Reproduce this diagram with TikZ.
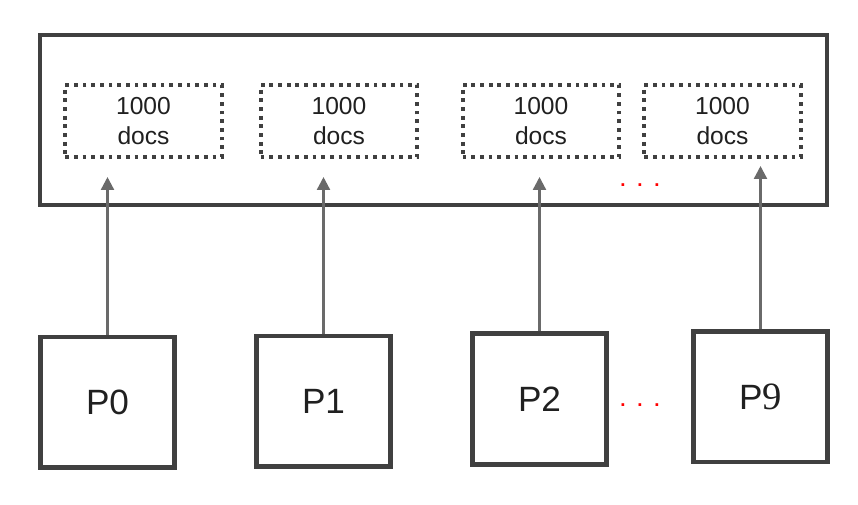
\documentclass[tikz,border=0pt]{standalone}
\usepackage{fontspec}
\setmainfont{Liberation Sans}
\newfontfamily\ninefont{Liberation Serif}
\usetikzlibrary{positioning,arrows.meta}
\definecolor{frame}{HTML}{404040}
\definecolor{arrowgray}{HTML}{6A6A6A}
\definecolor{txt}{HTML}{202020}
\tikzset{
  store/.style={rectangle,draw=frame,line width=4.2pt,minimum width=23.61cm,minimum height=5.1cm},
  docs/.style={rectangle,draw=frame,line width=3.2pt,dash pattern=on 3.2pt off 4.2pt,
    minimum width=4.7cm,minimum height=2.16cm,align=center,text=txt,
    font=\fontsize{21}{26}\selectfont},
  proc/.style={rectangle,draw=frame,line width=4.2pt,minimum width=4.0cm,minimum height=3.92cm,
    text=txt,font=\fontsize{30}{30}\selectfont},
  more/.style={text=red,font=\fontsize{16}{16}\selectfont\bfseries},
  ar/.style={-{Triangle[length=11pt,width=11pt]},line width=2pt,draw=arrowgray},
}
\begin{document}
\begin{tikzpicture}
\useasboundingbox (0,0) rectangle (25.74,-15.12);
% ---- index with shards ----
\node[store] (idx) at (13.005,-3.6){};
\node[docs] (d0) at (4.305,-3.63){1000\\docs};
\node[docs] (d1) at (10.17,-3.63){1000\\docs};
\node[docs] (d2) at (16.23,-3.63){1000\\docs};
\node[docs] (d9) at (21.675,-3.63){1000\\docs};
\node[more] (dmore) at (19.2,-5.55){.\hspace{10pt}.\hspace{10pt}.};

% ---- producers ----
\node[proc] (p0) at (3.225,-12.07){P0};
\node[proc] (p1) at (9.705,-12.04){P1};
\node[proc] (p2) at (16.185,-11.97){P2};
\node[proc] (p9) at (22.815,-11.9){P{\ninefont\fontsize{33}{33}\selectfont 9}};
\node[more] (pmore) at (19.2,-12.15){.\hspace{10pt}.\hspace{10pt}.};

% ---- arrows ----
\coordinate (tip) at (0,-5.31);
\coordinate (tip9) at (0,-4.98);
\draw[ar] (p0) -- (p0 |- tip);
\draw[ar] (p1) -- (p1 |- tip);
\draw[ar] (p2) -- (p2 |- tip);
\draw[ar] (p9) -- (p9 |- tip9);
\end{tikzpicture}
\end{document}
